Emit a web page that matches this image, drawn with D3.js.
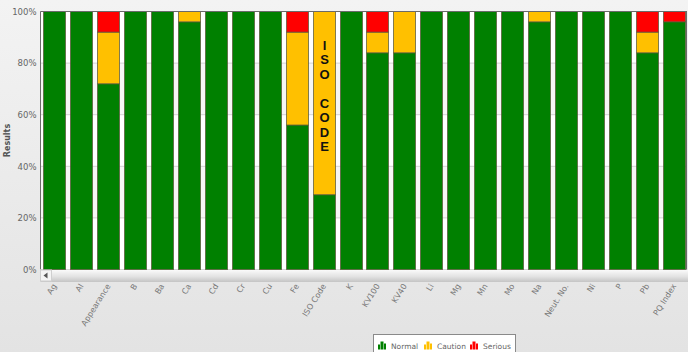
<!DOCTYPE html>
<html>
<head>
<meta charset="utf-8">
<script src="https://cdn.jsdelivr.net/npm/d3@7/dist/d3.min.js"></script>
<style>
  body { margin: 0; overflow: hidden; background: #e6e6e6; }
  text { font-family: "DejaVu Sans", Verdana, sans-serif; }
</style>
</head>
<body>
<div id="chart"></div>
<script>
/**
 * DATA
 * */
const categories = ["Ag", "Al", "Appearance", "B", "Ba", "Ca", "Cd", "Cr", "Cu", "Fe",
  "ISO Code", "K", "KV100", "KV40", "Li", "Mg", "Mn", "Mo", "Na", "Neut. No.",
  "Ni", "P", "Pb", "PQ Index"];
const normal  = [100, 100, 72, 100, 100, 96, 100, 100, 100, 56, 29, 100, 84, 84, 100, 100, 100, 100, 96, 100, 100, 100, 84, 96];
const caution = [0, 0, 20, 0, 0, 4, 0, 0, 0, 36, 71, 0, 8, 16, 0, 0, 0, 0, 4, 0, 0, 0, 8, 0];
const serious = [0, 0, 8, 0, 0, 0, 0, 0, 0, 8, 0, 0, 8, 0, 0, 0, 0, 0, 0, 0, 0, 0, 8, 4];
const seriesNames = ["Normal", "Caution", "Serious"];
const yTicks = [0, 20, 40, 60, 80, 100];
const annotation = { category: "ISO Code", text: "ISO CODE" };

/**
 * CONSTANTS
 * */
const width = 688, height = 352,
  margin = { top: 11.5, bottom: 82.5, left: 40.5, right: 1 };
const colors = { Normal: "#008000", Caution: "#ffc000", Serious: "#ff0000" };

const rows = categories.map((c, i) => ({
  cat: c, Normal: normal[i], Caution: caution[i], Serious: serious[i]
}));

const svg = d3.select("#chart").append("svg")
  .attr("width", width)
  .attr("height", height);

// page background gradient
const defs = svg.append("defs");
const bg = defs.append("linearGradient").attr("id", "bg")
  .attr("x1", 0).attr("y1", 0).attr("x2", 0).attr("y2", 1);
bg.append("stop").attr("offset", "0%").attr("stop-color", "#f3f3f3");
bg.append("stop").attr("offset", "100%").attr("stop-color", "#e3e3e3");
const sb = defs.append("linearGradient").attr("id", "sb")
  .attr("x1", 0).attr("y1", 0).attr("x2", 0).attr("y2", 1);
sb.append("stop").attr("offset", "0%").attr("stop-color", "#fafafa");
sb.append("stop").attr("offset", "55%").attr("stop-color", "#e2e2e2");
sb.append("stop").attr("offset", "100%").attr("stop-color", "#c4c4c4");

svg.append("rect").attr("width", width).attr("height", height).attr("fill", "url(#bg)");

const x = d3.scaleBand()
  .domain(categories)
  .range([margin.left, width - margin.right])
  .paddingInner(0.2)
  .paddingOuter(0.1);

const y = d3.scaleLinear()
  .domain([0, 100])
  .range([height - margin.bottom, margin.top]);

// plot background with alternating bands
svg.append("g").selectAll("rect")
  .data(d3.pairs(yTicks))
  .join("rect")
  .attr("x", margin.left)
  .attr("width", width - margin.right - margin.left)
  .attr("y", d => y(d[1]))
  .attr("height", d => y(d[0]) - y(d[1]))
  .attr("fill", (d, i) => i % 2 === 0 ? "#ffffff" : "#f6f6f6");

// gridlines
svg.append("g").selectAll("line")
  .data(yTicks)
  .join("line")
  .attr("x1", margin.left)
  .attr("x2", width - margin.right)
  .attr("y1", d => y(d))
  .attr("y2", d => y(d))
  .attr("stroke", "#d4d4d4");

// stacked bars
const stacked = d3.stack().keys(seriesNames)(rows);
svg.append("g").selectAll("g")
  .data(stacked)
  .join("g")
  .attr("fill", d => colors[d.key])
  .selectAll("rect")
  .data(d => d.filter(p => p[1] > p[0]))
  .join("rect")
  .attr("x", d => Math.round(x(d.data.cat)) + 0.5)
  .attr("width", Math.round(x.bandwidth()))
  .attr("y", d => y(d[1]))
  .attr("height", d => y(d[0]) - y(d[1]))
  .attr("stroke", "#5a5a3a")
  .attr("stroke-opacity", 0.75)
  .attr("stroke-width", 1);

// annotation in ISO Code bar, one letter per line
const ax = Math.round(x(annotation.category)) + 0.5 + Math.round(x.bandwidth()) / 2;
svg.append("text")
  .attr("text-anchor", "middle")
  .style("font-family", "'Liberation Sans', Arial, sans-serif")
  .style("font-weight", "bold")
  .style("font-size", "13px")
  .attr("fill", "#111")
  .selectAll("tspan")
  .data(annotation.text.split(""))
  .join("tspan")
  .attr("x", ax)
  .attr("y", (d, i) => y(100) + 38 + i * 14.5)
  .text(d => d === " " ? "\u00a0" : d);

// plot frame
svg.append("line")
  .attr("x1", margin.left).attr("x2", width - margin.right)
  .attr("y1", y(100)).attr("y2", y(100))
  .attr("stroke", "#6a6a6a");
svg.append("line")
  .attr("x1", margin.left).attr("x2", margin.left)
  .attr("y1", y(100)).attr("y2", y(0))
  .attr("stroke", "#6a6a6a");
svg.append("line")
  .attr("x1", width - 1.5).attr("x2", width - 1.5)
  .attr("y1", y(100)).attr("y2", y(0))
  .attr("stroke", "#6a6a6a");

// y axis
const yAxis = svg.append("g")
  .attr("transform", `translate(${margin.left},0)`)
  .call(d3.axisLeft(y).tickValues(yTicks).tickFormat(d => d + "%").tickSize(0).tickPadding(4));
yAxis.select(".domain").remove();
yAxis.selectAll("text")
  .attr("fill", "#666")
  .style("font-size", "8.5px");

svg.append("text")
  .attr("transform", `translate(10,${(y(0) + y(100)) / 2}) rotate(-90)`)
  .attr("text-anchor", "middle")
  .style("font-size", "8px")
  .style("font-weight", "bold")
  .attr("fill", "#555")
  .text("Results");

// scrollbar under the plot
const sbTop = y(0) + 0.5;
svg.append("rect")
  .attr("x", margin.left).attr("y", sbTop)
  .attr("width", width - margin.left).attr("height", 12)
  .attr("fill", "url(#sb)");
svg.append("rect")
  .attr("x", margin.left).attr("y", sbTop)
  .attr("width", 11).attr("height", 11)
  .attr("fill", "#f4f4f4")
  .attr("stroke", "#cfcfcf");
svg.append("path")
  .attr("d", `M${margin.left + 3},${sbTop + 5.5} l4,-3 v6 z`)
  .attr("fill", "#555");

// x labels
svg.append("g").selectAll("text")
  .data(categories)
  .join("text")
  .attr("transform", d => `translate(${x(d) + x.bandwidth() / 2 + 3},${sbTop + 16}) rotate(-58)`)
  .attr("text-anchor", "end")
  .style("font-size", "8px")
  .attr("fill", "#777")
  .text(d => d);

// legend
const legend = svg.append("g").attr("transform", "translate(373.5,334.5)");
legend.append("rect")
  .attr("width", 142).attr("height", 24)
  .attr("fill", "#fff")
  .attr("stroke", "#8a8a8a");
const itemX = [4.5, 50.5, 96.5];
const item = legend.selectAll("g.item")
  .data(seriesNames)
  .join("g")
  .attr("class", "item")
  .attr("transform", (d, i) => `translate(${itemX[i]},6)`);
item.selectAll("rect")
  .data(d => [[0, 4, 2, d], [2.5, 1, 3, d], [6, 3, 2, d]])
  .join("rect")
  .attr("x", d => d[0])
  .attr("y", d => d[1])
  .attr("width", d => d[2])
  .attr("height", d => 9 - d[1])
  .attr("fill", d => colors[d[3]]);
item.append("text")
  .attr("x", 13)
  .attr("y", 8)
  .style("font-size", "7.5px")
  .attr("fill", "#666")
  .text(d => d);
</script>
</body>
</html>
